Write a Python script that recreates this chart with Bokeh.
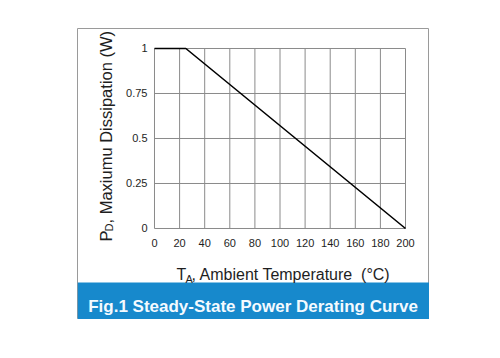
import math
from bokeh.plotting import figure
from bokeh.models import Range1d, Label, FixedTicker, BoxAnnotation
from bokeh.embed import file_html
from bokeh.resources import INLINE

# ---- data ----
temperature = [0, 25, 200]          # T_A (°C)
power = [1.0, 1.0, 0.0]             # P_D (W)
x_ticks = [0, 20, 40, 60, 80, 100, 120, 140, 160, 180, 200]
y_ticks = [0, 0.25, 0.5, 0.75, 1]
y_tick_labels = ["0", "0.25", "0.5", "0.75", "1"]
title_text = "Fig.1 Steady-State Power Derating Curve"

FONT = "Liberation Sans"
TXT = "#1e1e1e"
GRID = "#8a8a8a"
BLUE = "#1789cc"

# The frame is the whole bordered panel; the plotting area lies inside it.
p = figure(width=352, height=291,
           x_range=Range1d(-61.35, 219.12), y_range=Range1d(-0.5056, 1.1111),
           output_backend="svg", toolbar_location=None,
           min_border=0, margin=(28, 0, 0, 77))

p.background_fill_color = "white"
p.border_fill_color = "white"
p.outline_line_color = "#9a9a9a"
p.outline_line_width = 1
p.grid.visible = False

for ax in (p.xaxis[0], p.yaxis[0]):
    ax.fixed_location = 0
    ax.axis_line_color = None
    ax.major_tick_line_color = None
    ax.minor_tick_line_color = None
    ax.major_tick_out = 0
    ax.major_tick_in = 0
    ax.minor_tick_out = 0
    ax.minor_tick_in = 0
    ax.major_label_text_font = FONT
    ax.major_label_text_font_size = "11px"
    ax.major_label_text_color = TXT

p.xaxis.ticker = FixedTicker(ticks=x_ticks)
p.yaxis.ticker = FixedTicker(ticks=y_ticks)
p.yaxis.major_label_overrides = {t: l for t, l in zip(y_ticks, y_tick_labels)}
p.xaxis.major_label_standoff = 11
p.yaxis.major_label_standoff = 7

# grid of the plotting area, from the tick arrays
n_x, n_y = len(x_ticks), len(y_ticks)
p.segment(x0=x_ticks, y0=[y_ticks[0]] * n_x, x1=x_ticks, y1=[y_ticks[-1]] * n_x,
          line_color=GRID, line_width=1)
p.segment(x0=[x_ticks[0]] * n_y, y0=y_ticks, x1=[x_ticks[-1]] * n_y, y1=y_ticks,
          line_color=GRID, line_width=1)

p.line(temperature, power, line_color="black", line_width=1.6)

# ---- caption band ----
p.add_layout(BoxAnnotation(top=-0.3, fill_color=BLUE, fill_alpha=1.0,
                           line_color=None, level="underlay"))
p.add_layout(Label(x=78.5, y=-0.4333, text=title_text, text_font=FONT,
                   text_font_size="17px", text_font_style="bold",
                   text_color="#f4faff", text_align="center",
                   text_baseline="alphabetic"))

# ---- axis titles (with subscripts) ----
def lab(x, y, text, size, angle=0):
    p.add_layout(Label(x=x, y=y, text=text, text_font=FONT, text_font_size=size,
                       text_color=TXT, text_baseline="alphabetic",
                       text_align="left", angle=angle))

lab(17.5, -0.2583, "T", "16px")
lab(24.7, -0.2806, "A", "11px")
lab(29.5, -0.2583, ", Ambient Temperature \u00a0(°C)", "16px")

lab(-39.0, -0.0722, "P", "16.5px", math.pi / 2)
lab(-36.25, -0.0167, "D", "11px", math.pi / 2)
lab(-39.0, 0.0278, ", Maxiumu Dissipation (W)", "16.5px", math.pi / 2)

open("out.html", "w").write(file_html(p, INLINE))
